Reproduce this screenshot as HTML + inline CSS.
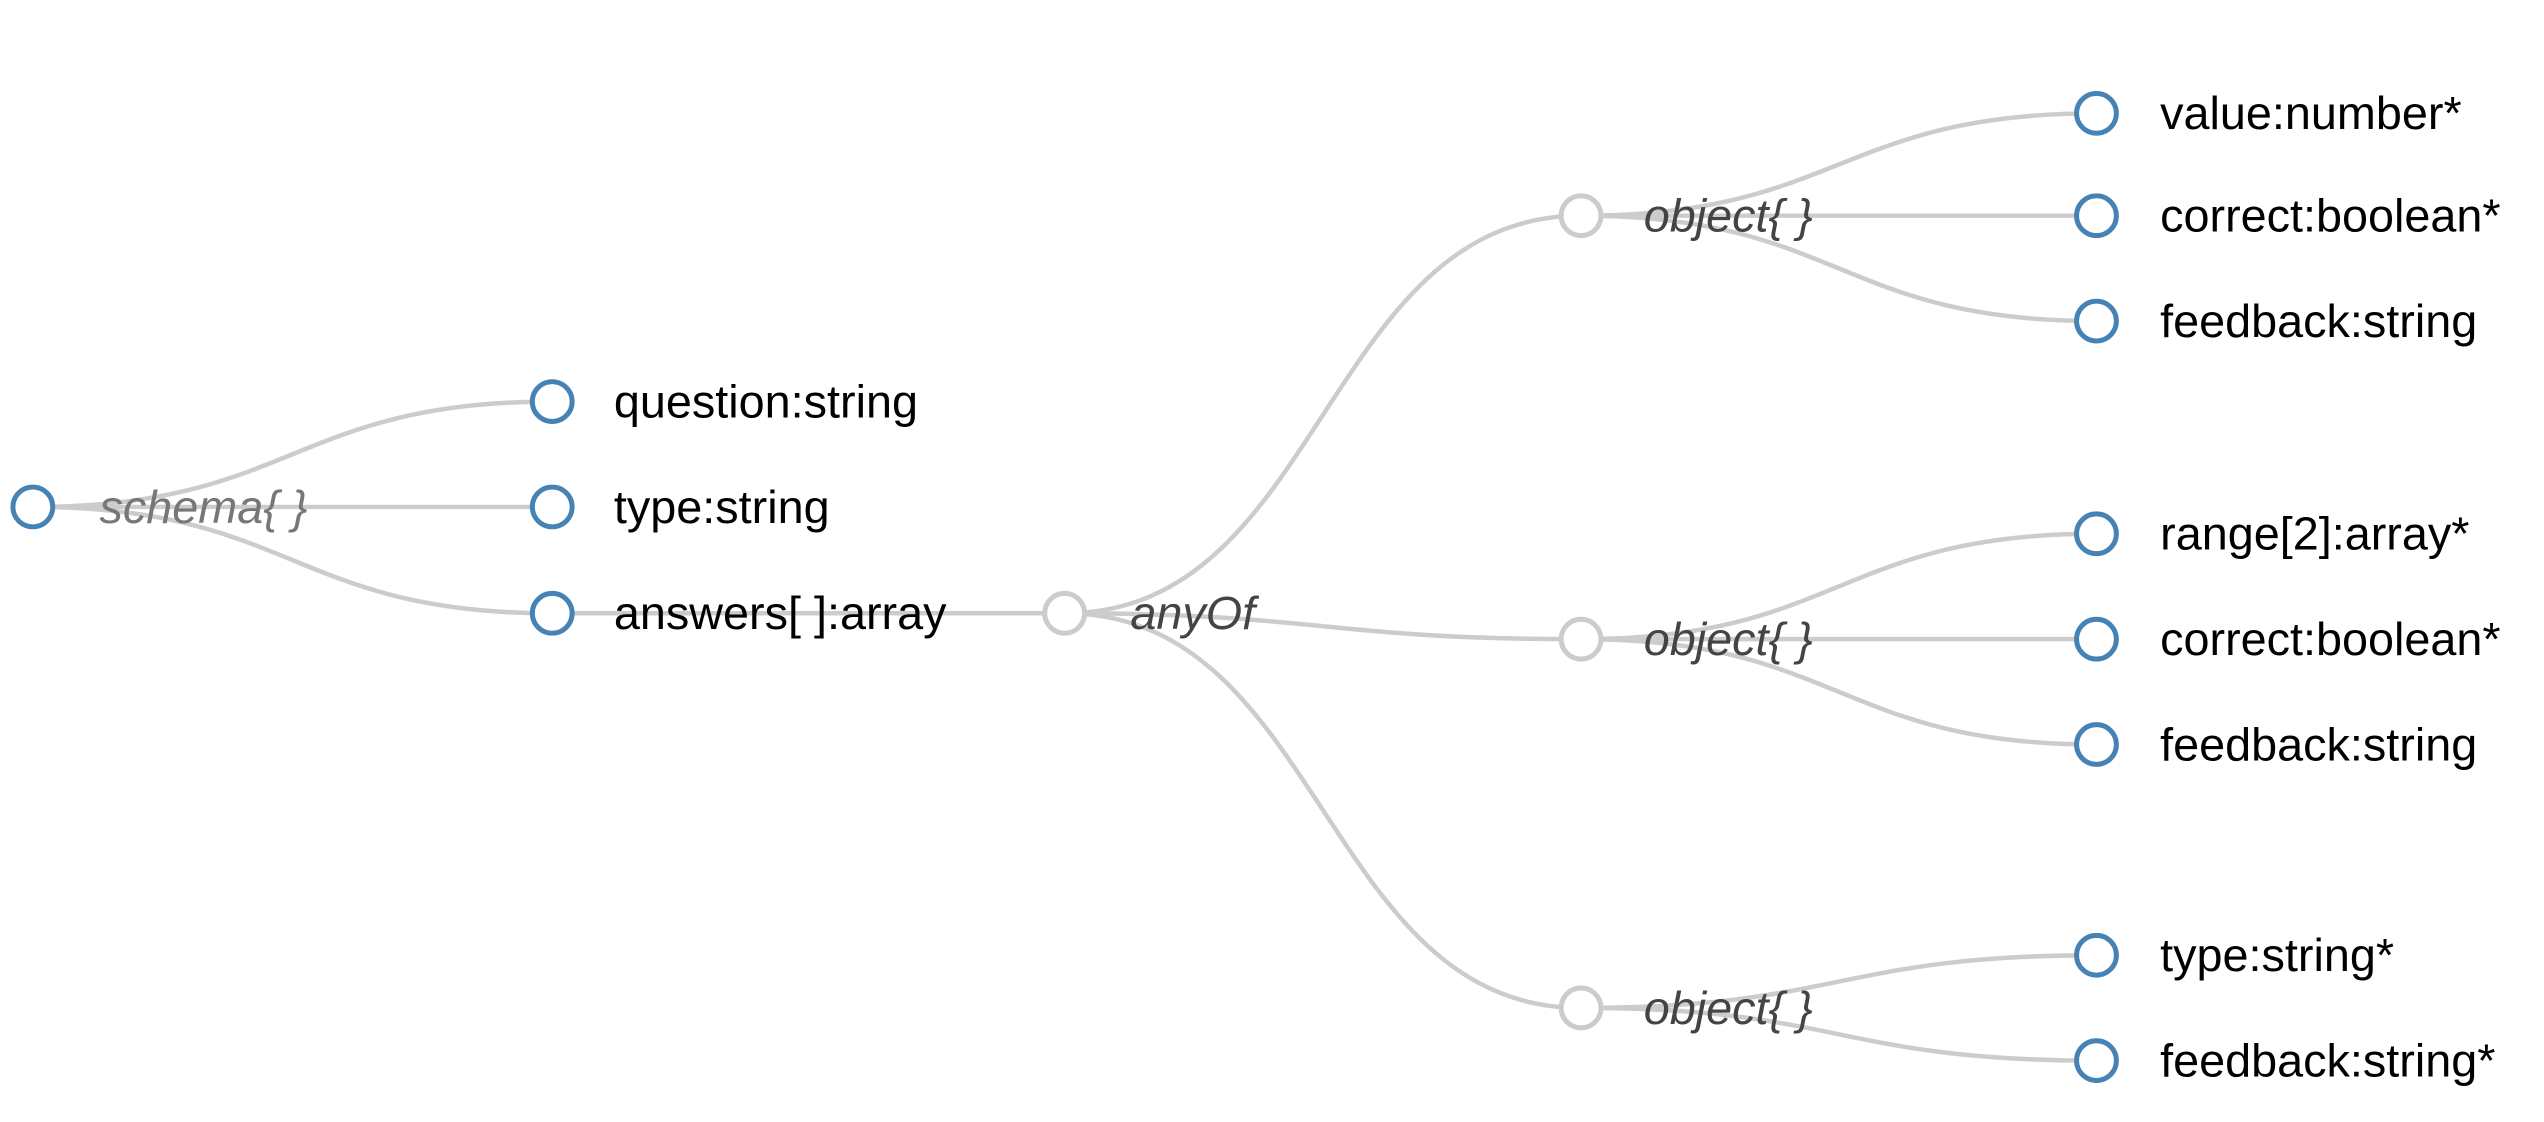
<!DOCTYPE html>
<html><head><style>
html,body{margin:0;padding:0;background:#fff;}
svg{display:block;}
text{font-family:"Liberation Sans",sans-serif;font-size:47px;}
.l{fill:none;stroke:#ccc;stroke-width:4.5;}
.b{fill:#fff;stroke:#4682b4;stroke-width:5;}
.g{fill:#fff;stroke:#ccc;stroke-width:5;}
.i{font-style:italic;fill:#444;}
</style></head><body>
<svg width="2544" height="1122" viewBox="0 0 2544 1122">
<g transform="scale(0.995,0.994)">
<g>
<path class="l" d="M33,510 C294,510 294,404 555,404"/>
<path class="l" d="M33,510 L555,510"/>
<path class="l" d="M33,510 C294,510 294,617 555,617"/>
<path class="l" d="M555,617 L1070,617"/>
<path class="l" d="M1070,617 C1330,617 1330,217 1589,217"/>
<path class="l" d="M1070,617 C1330,617 1330,643 1589,643"/>
<path class="l" d="M1070,617 C1330,617 1330,1014 1589,1014"/>
<path class="l" d="M1589,217 C1848,217 1848,114 2107,114"/>
<path class="l" d="M1589,217 L2107,217"/>
<path class="l" d="M1589,217 C1848,217 1848,323 2107,323"/>
<path class="l" d="M1589,643 C1848,643 1848,537 2107,537"/>
<path class="l" d="M1589,643 L2107,643"/>
<path class="l" d="M1589,643 C1848,643 1848,749 2107,749"/>
<path class="l" d="M1589,1014 C1848,1014 1848,961 2107,961"/>
<path class="l" d="M1589,1014 C1848,1014 1848,1067 2107,1067"/>
</g>
<circle class="b" cx="33" cy="510" r="20"/>
<text class="i" x="100" y="526" style="fill:#777">schema{ }</text>
<circle class="b" cx="555" cy="404" r="20"/><text x="617" y="420">question:string</text>
<circle class="b" cx="555" cy="510" r="20"/><text x="617" y="526">type:string</text>
<circle class="b" cx="555" cy="617" r="20"/><text x="617" y="633">answers[ ]:array</text>
<circle class="g" cx="1070" cy="617" r="20"/><text class="i" x="1136" y="633">anyOf</text>
<circle class="g" cx="1589" cy="217" r="20"/><text class="i" x="1652" y="233">object{ }</text>
<circle class="g" cx="1589" cy="643" r="20"/><text class="i" x="1652" y="659">object{ }</text>
<circle class="g" cx="1589" cy="1014" r="20"/><text class="i" x="1652" y="1030">object{ }</text>
<circle class="b" cx="2107" cy="114" r="20"/><text x="2171" y="130">value:number*</text>
<circle class="b" cx="2107" cy="217" r="20"/><text x="2171" y="233">correct:boolean*</text>
<circle class="b" cx="2107" cy="323" r="20"/><text x="2171" y="339">feedback:string</text>
<circle class="b" cx="2107" cy="537" r="20"/><text x="2171" y="553">range[2]:array*</text>
<circle class="b" cx="2107" cy="643" r="20"/><text x="2171" y="659">correct:boolean*</text>
<circle class="b" cx="2107" cy="749" r="20"/><text x="2171" y="765">feedback:string</text>
<circle class="b" cx="2107" cy="961" r="20"/><text x="2171" y="977">type:string*</text>
<circle class="b" cx="2107" cy="1067" r="20"/><text x="2171" y="1083">feedback:string*</text>
</g>
</svg>
</body></html>
